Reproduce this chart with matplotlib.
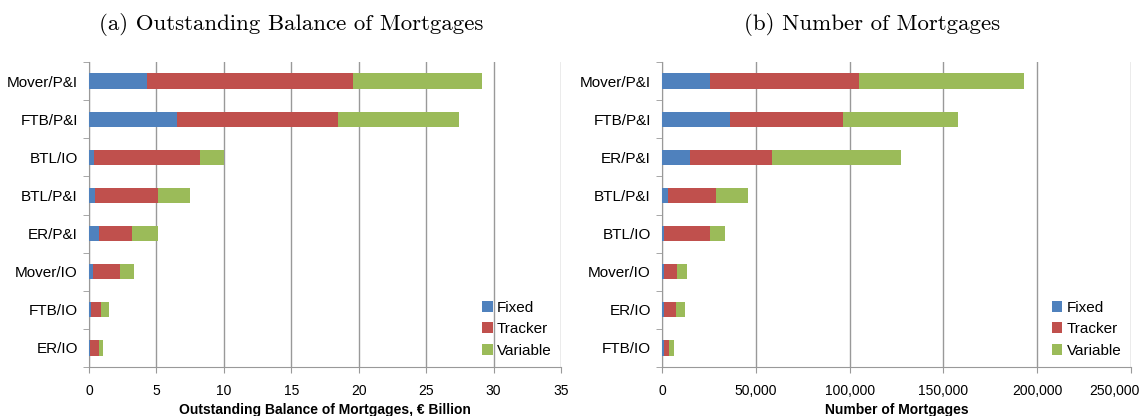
import numpy as np
import matplotlib.pyplot as plt
import matplotlib.transforms as mtransforms
from matplotlib.ticker import FuncFormatter

# ---------- data ----------
bal_cats = ['Mover/P&I', 'FTB/P&I', 'BTL/IO', 'BTL/P&I', 'ER/P&I', 'Mover/IO', 'FTB/IO', 'ER/IO']
bal_fixed = [4.3, 6.5, 0.35, 0.45, 0.75, 0.3, 0.15, 0.05]
bal_tracker = [15.25, 12.0, 7.85, 4.7, 2.45, 2.0, 0.75, 0.7]
bal_variable = [9.6, 8.9, 1.8, 2.35, 1.9, 1.05, 0.55, 0.3]

num_cats = ['Mover/P&I', 'FTB/P&I', 'ER/P&I', 'BTL/P&I', 'BTL/IO', 'Mover/IO', 'ER/IO', 'FTB/IO']
num_fixed = [25400, 36500, 14900, 3200, 1000, 1000, 800, 800]
num_tracker = [79400, 60100, 44000, 25800, 24600, 7100, 6700, 2800]
num_variable = [88300, 61300, 68300, 16800, 7900, 5400, 4600, 2600]

series_names = ['Fixed', 'Tracker', 'Variable']
colors = ['#4F81BD', '#C0504D', '#9BBB59']

plt.rcParams['font.family'] = ['Liberation Sans', 'DejaVu Sans']

fig = plt.figure(figsize=(11.41, 4.16), dpi=100)
ax1 = fig.add_axes([89 / 1141, 1 - 367 / 416, 472 / 1141, 305 / 416])
ax2 = fig.add_axes([662 / 1141, 1 - 367 / 416, 469 / 1141, 305 / 416])


def draw(ax, cats, fixed, tracker, variable, xmax, step, xlabel, fmt):
    y = np.arange(len(cats))
    left = np.zeros(len(cats))
    for vals, col, name in zip([fixed, tracker, variable], colors, series_names):
        ax.barh(y, vals, left=left, height=0.4, color=col, label=name, zorder=3)
        left += np.array(vals)
    ax.set_ylim(len(cats) - 0.5, -0.5)
    ax.set_xlim(0, xmax)
    ax.set_xticks(np.arange(0, xmax + 1, step))
    ax.xaxis.set_major_formatter(FuncFormatter(fmt))
    ax.set_yticks(y)
    ax.set_yticklabels(cats)
    ax.set_yticks(np.arange(-0.5, len(cats)), minor=True)
    ax.tick_params(axis='y', which='major', length=0, labelsize=11, pad=8)
    ax.tick_params(axis='y', which='minor', length=4, color='#999999', direction='out')
    ax.tick_params(axis='x', length=4, color='#999999', labelsize=10, pad=8)
    ax.grid(axis='x', color='#999999', linewidth=1, zorder=0)
    for s in ['top', 'right']:
        ax.spines[s].set_visible(False)
    for s in ['left', 'bottom']:
        ax.spines[s].set_color('#999999')
    ax.set_xlabel(xlabel, fontsize=10, fontweight='bold', labelpad=4)
    ax.legend(loc='lower right', frameon=False, fontsize=11, handlelength=0.7,
              handleheight=0.7, handletextpad=0.3, labelspacing=0.5,
              borderaxespad=0.2, bbox_to_anchor=(1.0, 0.0))


draw(ax1, bal_cats, bal_fixed, bal_tracker, bal_variable, 35, 5,
     'Outstanding Balance of Mortgages, € Billion', lambda v, p: f'{v:g}')
draw(ax2, num_cats, num_fixed, num_tracker, num_variable, 250000, 50000,
     'Number of Mortgages', lambda v, p: f'{v:,.0f}')

# last label of the right axis sits against the figure edge
fig.canvas.draw()
last = ax2.get_xticklabels()[-1]
last.set_horizontalalignment('right')
last.set_transform(last.get_transform() +
                   mtransforms.ScaledTranslation(9 / 100, 0, fig.dpi_scale_trans))

fig.text(291 / 1141, 1 - 25 / 416, '(a) Outstanding Balance of Mortgages',
         family='cmr10', fontsize=16.5, ha='center', va='center')
fig.text(872 / 1141, 1 - 25 / 416, '(b) Number of Mortgages',
         family='cmr10', fontsize=16.5, ha='center', va='center')

fig.savefig('out.png', dpi=100)
